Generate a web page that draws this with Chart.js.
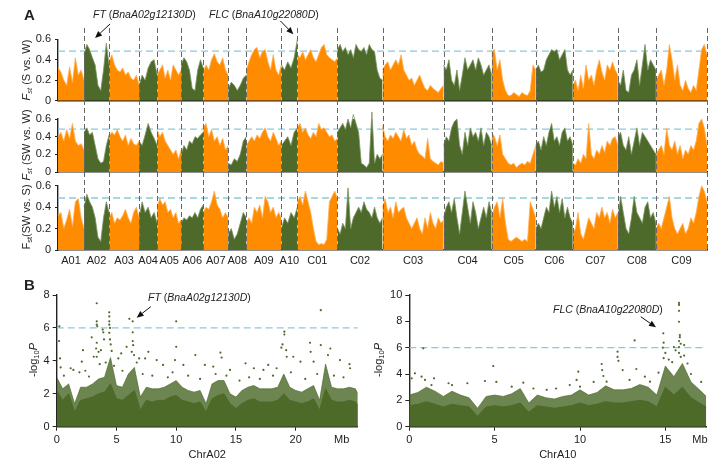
<!DOCTYPE html>
<html>
<head>
<meta charset="utf-8">
<script src="https://cdn.jsdelivr.net/npm/chart.js@4.4.1/dist/chart.umd.min.js"></script>
<style>
html, body { margin: 0; padding: 0; background: #fff; }
#wrap { position: relative; width: 723px; height: 470px; overflow: hidden; font-family: "Liberation Sans", Arial, sans-serif; color: #222; }
#wrap canvas { position: absolute; left: 0; top: 0; }
.lbl { position: absolute; white-space: nowrap; font-size: 10.5px; line-height: 13px; }
.panel { position: absolute; font-weight: bold; font-size: 15px; line-height: 17px; }
.ytitle { position: absolute; white-space: nowrap; font-size: 11px; line-height: 13px; transform: translate(-50%, -50%) rotate(-90deg); }
.ytitle sub { font-size: 7.5px; vertical-align: -2px; }
</style>
</head>
<body>
<div id="wrap">
  <canvas id="rowA1" width="723" height="470"></canvas>
  <canvas id="rowA2" width="723" height="470"></canvas>
  <canvas id="rowA3" width="723" height="470"></canvas>
  <canvas id="gwasA02" width="723" height="470"></canvas>
  <canvas id="gwasA10" width="723" height="470"></canvas>

  <div class="panel" style="left:24px;top:6px;">A</div>
  <div class="panel" style="left:24px;top:276px;">B</div>

  <div class="lbl" style="left:93px;top:8px;"><i>FT</i> (<i>BnaA02g12130D</i>)</div>
  <div class="lbl" style="left:209px;top:8px;"><i>FLC</i> (<i>BnaA10g22080D</i>)</div>
  <div class="lbl" style="left:148px;top:291px;"><i>FT</i> (<i>BnaA02g12130D</i>)</div>
  <div class="lbl" style="left:553px;top:303px;"><i>FLC</i> (<i>BnaA10g22080D</i>)</div>

  <div class="ytitle" style="left:28px;top:70px;"><i>F</i><sub><i>st</i></sub> (S vs. W)</div>
  <div class="ytitle" style="left:28px;top:145px;"><i>F</i><sub><i>st</i></sub> (SW vs. W)</div>
  <div class="ytitle" style="left:28px;top:217px;">F<sub>st</sub>(SW vs. S)</div>
  <div class="ytitle" style="left:35px;top:360px;">-log<sub>10</sub><i>P</i></div>
  <div class="ytitle" style="left:380px;top:360px;">-log<sub>10</sub><i>P</i></div>
</div>

<script>
// ---- panel A data: Fst windows per chromosome ----
const chromNames = ['A01', 'A02', 'A03', 'A04', 'A05', 'A06', 'A07', 'A08', 'A09', 'A10',
  'C01', 'C02', 'C03', 'C04', 'C05', 'C06', 'C07', 'C08', 'C09'];
const chromLengths = [26, 25, 30, 18, 24, 22, 25, 18, 35, 16, 40, 45, 61, 48, 44, 37, 45, 38, 51];
const fstTicks = [0, 0.2, 0.4, 0.6];
const fstThreshold = 0.485;

const fstSvsW = [
  [0.32, 0.28, 0.2, 0.15, 0.33, 0.18, 0.42, 0.25, 0.3, 0.2],
  [0.45, 0.55, 0.5, 0.42, 0.35, 0.15, 0.1, 0.3, 0.56, 0.35],
  [0.38, 0.45, 0.35, 0.3, 0.28, 0.32, 0.25, 0.28, 0.22, 0.2, 0.25, 0.15],
  [0.15, 0.25, 0.2, 0.32, 0.38, 0.4, 0.25],
  [0.25, 0.3, 0.35, 0.22, 0.3, 0.2, 0.35, 0.3, 0.25, 0.3],
  [0.35, 0.42, 0.38, 0.3, 0.12, 0.1, 0.3, 0.4, 0.32],
  [0.28, 0.35, 0.3, 0.4, 0.46, 0.38, 0.35, 0.42, 0.3, 0.25],
  [0.12, 0.18, 0.15, 0.1, 0.15, 0.22, 0.25],
  [0.3, 0.38, 0.45, 0.5, 0.52, 0.42, 0.48, 0.5, 0.38, 0.3, 0.45, 0.3, 0.25, 0.35],
  [0.35, 0.3, 0.38, 0.32, 0.42, 0.6],
  [0.45, 0.42, 0.48, 0.4, 0.45, 0.5, 0.42, 0.38, 0.45, 0.52, 0.55, 0.45, 0.42, 0.4, 0.38, 0.42],
  [0.5, 0.55, 0.48, 0.52, 0.45, 0.5, 0.42, 0.55, 0.5, 0.48, 0.52, 0.45, 0.55, 0.5, 0.48, 0.3, 0.22, 0.2],
  [0.3, 0.35, 0.38, 0.3, 0.35, 0.4, 0.35, 0.45, 0.3, 0.25, 0.2, 0.22, 0.15, 0.2, 0.25, 0.18, 0.12, 0.1, 0.15, 0.12, 0.1, 0.08, 0.12, 0.15],
  [0.35, 0.3, 0.4, 0.2, 0.15, 0.3, 0.1, 0.25, 0.42, 0.3, 0.35, 0.4, 0.3, 0.42, 0.35, 0.25, 0.3, 0.35, 0.25],
  [0.48, 0.5, 0.3, 0.4, 0.2, 0.1, 0.05, 0.05, 0.08, 0.06, 0.04, 0.08, 0.06, 0.05, 0.1, 0.35, 0.3],
  [0.3, 0.35, 0.28, 0.3, 0.4, 0.45, 0.5, 0.48, 0.5, 0.4, 0.45, 0.5, 0.3, 0.25, 0.3],
  [0.15, 0.2, 0.1, 0.25, 0.12, 0.35, 0.2, 0.25, 0.15, 0.3, 0.4, 0.28, 0.2, 0.35, 0.3, 0.38, 0.3, 0.25],
  [0.2, 0.15, 0.3, 0.1, 0.08, 0.25, 0.3, 0.4, 0.15, 0.35, 0.55, 0.3, 0.4, 0.35, 0.3],
  [0.2, 0.25, 0.3, 0.15, 0.3, 0.55, 0.4, 0.2, 0.35, 0.15, 0.1, 0.2, 0.12, 0.08, 0.15, 0.1, 0.3, 0.5, 0.55, 0.45]
];

const fstSWvsW = [
  [0.4, 0.45, 0.35, 0.48, 0.38, 0.55, 0.35, 0.3, 0.32, 0.25],
  [0.45, 0.5, 0.42, 0.45, 0.3, 0.15, 0.1, 0.12, 0.3, 0.42],
  [0.4, 0.45, 0.42, 0.48, 0.4, 0.35, 0.42, 0.3, 0.38, 0.32, 0.3, 0.35],
  [0.35, 0.3, 0.42, 0.55, 0.45, 0.38, 0.3],
  [0.48, 0.4, 0.45, 0.35, 0.3, 0.25, 0.2, 0.25, 0.15, 0.25],
  [0.2, 0.3, 0.25, 0.35, 0.32, 0.4, 0.38, 0.42, 0.45],
  [0.5, 0.55, 0.4, 0.48, 0.35, 0.4, 0.3, 0.38, 0.25, 0.3],
  [0.1, 0.08, 0.15, 0.12, 0.2, 0.35, 0.4],
  [0.3, 0.35, 0.4, 0.35, 0.42, 0.38, 0.45, 0.5, 0.4, 0.35, 0.45, 0.38, 0.3, 0.35],
  [0.3, 0.35, 0.4, 0.3, 0.45, 0.5],
  [0.5, 0.55, 0.45, 0.5, 0.42, 0.38, 0.45, 0.4, 0.55, 0.48, 0.5, 0.45, 0.4, 0.42, 0.35, 0.38],
  [0.45, 0.5, 0.55, 0.48, 0.6, 0.5, 0.65, 0.55, 0.45, 0.1, 0.08, 0.05, 0.1, 0.68, 0.1, 0.2, 0.15, 0.2],
  [0.53, 0.4, 0.35, 0.42, 0.38, 0.45, 0.4, 0.35, 0.48, 0.38, 0.42, 0.3, 0.35, 0.25, 0.2, 0.18, 0.15, 0.38, 0.15, 0.12, 0.1, 0.08, 0.12, 0.1],
  [0.3, 0.4, 0.35, 0.5, 0.57, 0.6, 0.3, 0.2, 0.45, 0.3, 0.5, 0.4, 0.45, 0.35, 0.5, 0.3, 0.45, 0.4, 0.3],
  [0.45, 0.4, 0.3, 0.42, 0.2, 0.15, 0.1, 0.08, 0.1, 0.05, 0.08, 0.1, 0.08, 0.12, 0.1, 0.2, 0.3],
  [0.3, 0.35, 0.25, 0.4, 0.3, 0.45, 0.55, 0.35, 0.4, 0.3, 0.45, 0.5, 0.35, 0.4, 0.3],
  [0.1, 0.08, 0.15, 0.1, 0.2, 0.15, 0.55, 0.2, 0.15, 0.25, 0.2, 0.3, 0.22, 0.35, 0.3, 0.38, 0.4, 0.3],
  [0.4, 0.45, 0.3, 0.25, 0.4, 0.2, 0.35, 0.5, 0.3, 0.45, 0.4, 0.35, 0.3, 0.25, 0.2],
  [0.2, 0.25, 0.3, 0.2, 0.5, 0.3, 0.25, 0.35, 0.2, 0.3, 0.15, 0.25, 0.2, 0.3, 0.25, 0.35, 0.55, 0.6, 0.5, 0.3]
];

const fstSWvsS = [
  [0.32, 0.35, 0.2, 0.28, 0.38, 0.22, 0.45, 0.48, 0.3, 0.2],
  [0.4, 0.52, 0.45, 0.4, 0.3, 0.12, 0.08, 0.3, 0.45, 0.35],
  [0.3, 0.35, 0.25, 0.3, 0.28, 0.32, 0.38, 0.3, 0.25, 0.35, 0.4, 0.3],
  [0.3, 0.45, 0.35, 0.4, 0.3, 0.35, 0.25],
  [0.4, 0.48, 0.42, 0.45, 0.35, 0.38, 0.3, 0.35, 0.25, 0.28],
  [0.25, 0.3, 0.28, 0.32, 0.3, 0.35, 0.3, 0.38, 0.42],
  [0.35, 0.4, 0.38, 0.45, 0.55, 0.42, 0.38, 0.3, 0.35, 0.3],
  [0.15, 0.2, 0.1, 0.15, 0.25, 0.35, 0.3],
  [0.25, 0.3, 0.25, 0.4, 0.35, 0.42, 0.3, 0.5, 0.45, 0.35, 0.4, 0.3, 0.35, 0.3],
  [0.2, 0.3, 0.25, 0.35, 0.3, 0.4],
  [0.45, 0.5, 0.42, 0.55, 0.45, 0.35, 0.2, 0.08, 0.05, 0.06, 0.05, 0.1, 0.45, 0.5, 0.55, 0.48],
  [0.2, 0.15, 0.25, 0.2, 0.58, 0.2, 0.3, 0.35, 0.4, 0.35, 0.45, 0.38, 0.35, 0.3, 0.4, 0.3, 0.25, 0.3],
  [0.4, 0.48, 0.35, 0.4, 0.3, 0.45, 0.35, 0.38, 0.4, 0.3, 0.25, 0.2, 0.25, 0.3, 0.2, 0.15, 0.3, 0.2, 0.35, 0.25, 0.2, 0.3, 0.25, 0.28],
  [0.3, 0.4, 0.45, 0.35, 0.48, 0.3, 0.15, 0.35, 0.55, 0.4, 0.25, 0.45, 0.35, 0.2, 0.3, 0.4, 0.3, 0.45, 0.35],
  [0.3, 0.4, 0.45, 0.3, 0.48, 0.25, 0.1, 0.08, 0.1, 0.12, 0.1, 0.08, 0.1, 0.08, 0.45, 0.38, 0.3],
  [0.2, 0.25, 0.2, 0.3, 0.4, 0.35, 0.55, 0.4, 0.5, 0.35, 0.48, 0.3, 0.4, 0.3, 0.25],
  [0.15, 0.2, 0.35, 0.15, 0.1, 0.2, 0.3, 0.25, 0.2, 0.35, 0.3, 0.4, 0.3, 0.35, 0.25, 0.38, 0.3, 0.35],
  [0.3, 0.5, 0.35, 0.2, 0.15, 0.3, 0.5, 0.35, 0.3, 0.25, 0.4, 0.45, 0.3, 0.35, 0.25],
  [0.2, 0.25, 0.2, 0.3, 0.4, 0.5, 0.3, 0.2, 0.15, 0.2, 0.25, 0.15, 0.2, 0.3, 0.25, 0.35, 0.5, 0.6, 0.55, 0.45]
];

// ---- panel B data: association scans ----
const gwasThreshold = 6;
const envelopeStep = 0.5; // Mb between envelope values of the dense point cloud
const a02Length = 25.2;
const a02Ticks = [0, 5, 10, 15, 20];
// top of the solid core and of the speckled cloud of SNPs
const a02Solid = [2.2, 1.6, 2.0, 0.9, 1.6, 1.7, 1.8, 2.0, 2.1, 2.6, 1.7, 1.6, 1.9, 2.2, 1.0, 1.6, 1.5,
  1.6, 1.6, 1.8, 1.9, 1.6, 1.5, 1.4, 1.5, 0.9, 1.7, 1.9, 2.0, 1.4, 1.1, 1.4, 1.6, 1.7, 1.5, 1.5, 1.5,
  1.6, 2.0, 1.6, 1.5, 1.4, 1.5, 1.7, 1.0, 2.3, 1.6, 1.5, 1.5, 1.6, 1.5, 1.3];
const a02Cloud = [3.0, 2.3, 2.6, 1.4, 2.4, 2.4, 2.6, 2.9, 3.0, 4.2, 2.5, 2.4, 3.2, 3.6, 1.8, 2.4, 2.3,
  2.3, 2.4, 2.6, 2.8, 2.4, 2.2, 2.1, 2.2, 1.4, 2.6, 2.8, 2.8, 2.0, 1.8, 2.2, 2.4, 2.5, 2.3, 2.3, 2.3,
  2.4, 3.2, 2.4, 2.2, 2.1, 2.3, 2.5, 1.6, 3.8, 2.4, 2.3, 2.3, 2.4, 2.3, 2.0];
const a02Peaks = [
  [0.22, 6.1], [0.2, 5.2], [0.28, 4.15], [0.33, 3.6], [1.17, 3.55], [1.4, 3.45], [2.1, 3.95], [2.2, 4.65],
  [2.7, 3.05], [2.93, 5.43], [3.1, 4.25], [3.35, 7.5], [3.35, 6.4], [3.35, 6.2], [3.4, 6.1], [3.35, 5.1],
  [3.3, 4.75], [3.5, 4.55], [3.35, 4.25], [3.85, 5.9], [3.9, 5.73], [3.96, 5.3], [3.7, 4.65], [4.4, 6.95],
  [4.4, 6.7], [4.4, 6.4], [4.4, 6.2], [4.46, 6.0], [4.4, 5.7], [4.46, 5.3], [4.52, 5.0], [4.6, 4.6],
  [5.16, 4.15], [5.4, 4.45], [5.85, 4.85], [6.08, 6.55], [6.36, 6.4], [6.36, 5.73], [6.36, 5.2], [6.4, 4.95],
  [6.28, 4.55], [6.47, 4.35], [6.9, 4.15], [7.4, 4.15], [7.67, 4.55], [8.37, 4.05], [8.9, 3.75], [10.0, 6.4],
  [10.0, 4.85], [9.9, 4.05], [10.6, 3.75], [11.6, 4.35], [12.4, 3.75], [13.1, 3.65], [13.7, 4.5], [13.8, 4.2],
  [14.5, 3.45], [15.8, 3.85], [16.5, 3.55], [17.3, 3.45], [17.7, 3.75], [18.4, 3.55], [18.9, 5.0], [19.05, 5.77],
  [19.05, 5.6], [18.8, 4.8], [19.2, 4.65], [19.25, 4.25], [19.8, 4.25], [20.4, 3.95], [21.2, 5.1], [21.25, 4.55],
  [21.5, 3.95], [22.1, 7.08], [22.1, 4.96], [22.9, 4.75], [22.7, 4.35], [23.7, 4.05], [24.5, 3.8], [24.55, 3.55],
  [0.6, 3.1], [1.9, 3.3], [2.4, 3.4], [3.6, 3.8], [4.1, 3.9], [4.8, 3.7], [5.5, 3.4], [6.7, 3.9], [7.2, 3.2],
  [8.0, 3.1], [9.3, 3.0], [9.7, 3.3], [11.0, 3.1], [12.0, 2.9], [13.3, 3.2], [14.2, 3.1], [15.3, 2.8],
  [16.1, 3.0], [17.0, 2.9], [18.1, 3.1], [19.6, 3.3], [20.8, 2.9], [21.8, 3.2], [23.2, 3.1], [24.0, 3.0]
];

const a10Length = 17.4;
const a10Ticks = [0, 5, 10, 15];
const a10Solid = [1.6, 1.7, 1.9, 1.7, 1.5, 1.7, 1.6, 1.5, 0.8, 1.5, 1.6, 1.5, 1.6, 1.8, 1.1, 1.6, 1.5,
  1.4, 1.5, 1.6, 1.8, 1.6, 1.7, 1.9, 1.8, 1.8, 1.9, 2.0, 1.9, 1.5, 3.0, 2.4, 3.0, 2.2, 1.8, 1.5];
const a10Cloud = [2.4, 2.6, 3.0, 2.7, 2.3, 2.7, 2.4, 2.2, 1.4, 2.3, 2.4, 2.3, 2.5, 2.9, 1.8, 2.4, 2.2,
  2.1, 2.3, 2.4, 2.8, 2.4, 2.6, 3.1, 2.8, 2.8, 2.9, 3.2, 3.0, 2.4, 4.6, 3.8, 4.8, 3.4, 2.8, 2.3];
const a10Peaks = [
  [0.14, 3.67], [0.33, 4.05], [0.82, 5.95], [0.72, 3.8], [0.92, 3.55], [1.45, 3.67], [1.3, 3.16], [2.3, 3.3],
  [2.5, 3.16], [3.4, 3.3], [4.43, 3.47], [4.92, 4.6], [5.1, 3.4], [6.0, 3.04], [6.68, 3.34], [7.27, 2.9],
  [8.05, 2.8], [8.6, 2.9], [9.4, 3.16], [9.9, 4.18], [9.8, 3.55], [10.0, 3.04], [10.8, 3.4], [11.27, 4.76],
  [11.3, 4.3], [11.37, 3.85], [11.56, 3.42], [12.2, 5.7], [12.2, 5.3], [12.25, 5.0], [12.5, 4.3], [12.9, 3.55],
  [13.2, 6.55], [13.3, 4.38], [13.8, 3.8], [14.1, 3.42], [14.88, 7.09], [14.9, 6.38], [14.85, 6.0], [15.0, 5.6],
  [14.9, 5.2], [15.5, 6.05], [15.6, 5.8], [15.8, 9.4], [15.8, 9.25], [15.8, 8.8], [15.8, 7.97], [15.85, 6.96],
  [15.85, 6.8], [15.8, 6.5], [15.9, 6.3], [15.8, 6.05], [15.8, 5.6], [15.9, 5.3], [16.1, 6.2], [16.1, 5.4],
  [15.2, 5.1], [16.3, 4.8], [16.5, 4.0], [17.1, 3.4], [15.4, 4.9], [14.6, 4.1]
];

// ---- styling ----
const ORANGE = '#FF8C00';
const ORANGE_TOP = '#FFAE55';
const GREEN = '#4D6A2A';
const GREEN_TOP = '#7D9461';
const GREEN_CLOUD = 'rgba(77,106,42,0.82)';
const CYAN = '#86CCDB';
const AXIS = '#222';
const FONT = '"Liberation Sans", Arial, sans-serif';

Chart.defaults.font.family = FONT;
Chart.defaults.color = AXIS;

// arrows pointing at a gene, given in data coordinates
const arrowPlugin = {
  id: 'arrows',
  afterDraw(chart, args, opts) {
    const list = opts.list || [];
    const ctx = chart.ctx, xs = chart.scales.x, ys = chart.scales.y;
    list.forEach(a => {
      const x1 = xs.getPixelForValue(a.from[0]), y1 = ys.getPixelForValue(a.from[1]);
      const x2 = xs.getPixelForValue(a.to[0]), y2 = ys.getPixelForValue(a.to[1]);
      const ang = Math.atan2(y2 - y1, x2 - x1);
      const hl = 7, hw = 3;
      const bx = x2 - hl * Math.cos(ang), by = y2 - hl * Math.sin(ang);
      ctx.save();
      ctx.strokeStyle = '#111';
      ctx.fillStyle = '#111';
      ctx.lineWidth = 1;
      ctx.beginPath();
      ctx.moveTo(x1, y1);
      ctx.lineTo(bx, by);
      ctx.stroke();
      ctx.beginPath();
      ctx.moveTo(x2, y2);
      ctx.lineTo(bx + hw * Math.sin(ang), by - hw * Math.cos(ang));
      ctx.lineTo(bx - hw * Math.sin(ang), by + hw * Math.cos(ang));
      ctx.closePath();
      ctx.fill();
      ctx.restore();
    });
  }
};

// dashed chromosome borders running through all three Fst rows
const dividerPlugin = {
  id: 'chromDividers',
  afterDatasetsDraw(chart, args, opts) {
    if (!opts.top) return;
    const ctx = chart.ctx, xs = chart.scales.x;
    ctx.save();
    ctx.setLineDash([5, 3]);
    ctx.strokeStyle = '#666';
    ctx.lineWidth = 1;
    let pos = 0;
    chromLengths.forEach(len => {
      pos += len;
      const px = Math.round(xs.getPixelForValue(pos)) + 0.5;
      ctx.beginPath();
      ctx.moveTo(px, opts.top);
      ctx.lineTo(px, chart.chartArea.bottom);
      ctx.stroke();
    });
    ctx.restore();
  }
};

Chart.register(arrowPlugin, dividerPlugin);

function padFor(area, yw, xh) {
  return { left: area.left - yw, top: area.top, right: 723 - area.right, bottom: 470 - area.bottom - xh };
}

const totalLength = chromLengths.reduce((a, b) => a + b, 0);
const chromCenters = [];
(function () {
  let s = 0;
  chromLengths.forEach(len => { chromCenters.push(s + len / 2); s += len; });
})();

function fstDatasets(rowValues) {
  const sets = [];
  let start = 0;
  rowValues.forEach((vals, c) => {
    const len = chromLengths[c];
    const step = len / (vals.length - 1);
    sets.push({
      data: vals.map((v, i) => ({ x: start + i * step, y: v })),
      fill: 'origin',
      backgroundColor: c % 2 ? GREEN : ORANGE,
      borderColor: c % 2 ? GREEN_TOP : ORANGE_TOP,
      borderWidth: 0.8,
      pointRadius: 0,
      tension: 0,
      clip: false
    });
    start += len;
  });
  sets.push({
    data: [{ x: 0, y: fstThreshold }, { x: totalLength, y: fstThreshold }],
    borderColor: CYAN,
    borderDash: [7, 4],
    borderWidth: 1.3,
    pointRadius: 0,
    fill: false
  });
  return sets;
}

function fstRow(id, values, area, opts) {
  const xh = opts.labels ? 20 : 2;
  return new Chart(document.getElementById(id), {
    type: 'line',
    data: { datasets: fstDatasets(values) },
    options: {
      responsive: false,
      animation: false,
      events: [],
      layout: { padding: padFor(area, 40, xh) },
      plugins: {
        legend: { display: false },
        tooltip: { enabled: false },
        arrows: { list: opts.arrows || [] },
        chromDividers: { top: opts.dividerTop || 0 }
      },
      scales: {
        x: {
          type: 'linear',
          min: 0,
          max: totalLength,
          grid: { display: false, drawTicks: false },
          border: { display: true, color: AXIS, width: 1.4 },
          afterBuildTicks: s => { s.ticks = chromCenters.map(v => ({ value: v })); },
          afterFit: s => { s.height = xh; },
          ticks: {
            display: !!opts.labels,
            autoSkip: false,
            maxRotation: 0,
            minRotation: 0,
            padding: 4,
            font: { size: 11 },
            callback: (v, i) => chromNames[i]
          }
        },
        y: {
          min: 0,
          max: 0.6,
          afterBuildTicks: s => { s.ticks = fstTicks.map(v => ({ value: v })); },
          afterFit: s => { s.width = 40; },
          grid: { drawOnChartArea: false, tickLength: 3, color: AXIS },
          border: { color: AXIS, width: 1.4 },
          ticks: { padding: 4, font: { size: 11 }, callback: v => String(+v.toFixed(1)) }
        }
      }
    }
  });
}

fstRow('rowA1', fstSvsW, { left: 58, top: 39.3, right: 707, bottom: 100.7 }, {
  arrows: [{ from: [52, 0.75], to: [37, 0.613] }, { from: [222, 0.78], to: [235, 0.65] }]
});
fstRow('rowA2', fstSWvsW, { left: 58, top: 119, right: 707, bottom: 172 }, {});
fstRow('rowA3', fstSWvsS, { left: 58, top: 185.7, right: 707, bottom: 250 }, { labels: true, dividerTop: 28 });

function envelopeData(values, length) {
  return values.map((v, i) => ({ x: Math.min(i * envelopeStep, length), y: v }));
}

function gwasChart(id, cfg) {
  const mbPos = cfg.mbPos;
  const xh = 37;
  return new Chart(document.getElementById(id), {
    type: 'line',
    data: {
      datasets: [
        {
          data: envelopeData(cfg.cloud, cfg.length),
          fill: 'origin',
          backgroundColor: GREEN_CLOUD,
          borderColor: GREEN_CLOUD,
          borderWidth: 0.8,
          pointRadius: 0,
          tension: 0
        },
        {
          data: envelopeData(cfg.solid, cfg.length),
          fill: 'origin',
          backgroundColor: GREEN,
          borderColor: GREEN,
          borderWidth: 1,
          pointRadius: 0,
          tension: 0
        },
        {
          type: 'scatter',
          data: cfg.peaks.map(p => ({ x: p[0], y: p[1] })),
          pointRadius: 1.1,
          pointBackgroundColor: GREEN,
          pointBorderWidth: 0,
          showLine: false
        },
        {
          data: [{ x: 0, y: gwasThreshold }, { x: cfg.length, y: gwasThreshold }],
          borderColor: CYAN,
          borderDash: [7, 4],
          borderWidth: 1.3,
          pointRadius: 0,
          fill: false
        }
      ]
    },
    options: {
      responsive: false,
      animation: false,
      events: [],
      layout: { padding: padFor(cfg.area, 40, xh) },
      plugins: {
        legend: { display: false },
        tooltip: { enabled: false },
        arrows: { list: cfg.arrows }
      },
      scales: {
        x: {
          type: 'linear',
          min: 0,
          max: cfg.length,
          afterBuildTicks: s => { s.ticks = cfg.ticks.concat([mbPos]).map(v => ({ value: v })); },
          afterFit: s => { s.height = xh; },
          grid: {
            drawOnChartArea: false,
            tickLength: 4,
            tickColor: c => (c.tick && c.tick.value === mbPos ? 'rgba(0,0,0,0)' : AXIS)
          },
          border: { color: AXIS, width: 1.4 },
          ticks: {
            autoSkip: false,
            maxRotation: 0,
            padding: 3,
            font: { size: 11 },
            callback: v => (v === mbPos ? 'Mb' : String(v))
          },
          title: { display: true, text: cfg.title, font: { size: 11 }, padding: { top: 2, bottom: 2 } }
        },
        y: {
          min: 0,
          max: cfg.yMax,
          afterBuildTicks: s => { s.ticks = cfg.yTicks.map(v => ({ value: v })); },
          afterFit: s => { s.width = 40; },
          grid: { drawOnChartArea: false, tickLength: 4, color: AXIS },
          border: { color: AXIS, width: 1.4 },
          ticks: { padding: 3, font: { size: 11 } }
        }
      }
    }
  });
}

gwasChart('gwasA02', {
  area: { left: 56.7, top: 295, right: 56.7 + a02Length * 11.95, bottom: 426.7 },
  length: a02Length, ticks: a02Ticks, mbPos: 23.85, title: 'ChrA02',
  solid: a02Solid, cloud: a02Cloud, peaks: a02Peaks,
  yMax: 8, yTicks: [0, 2, 4, 6, 8],
  arrows: [{ from: [7.87, 7.29], to: [6.69, 6.62] }]
});

gwasChart('gwasA10', {
  area: { left: 409.3, top: 295, right: 409.3 + a10Length * 17.07, bottom: 426.7 },
  length: a10Length, ticks: a10Ticks, mbPos: 17.03, title: 'ChrA10',
  solid: a10Solid, cloud: a10Cloud, peaks: a10Peaks,
  yMax: 10, yTicks: [0, 2, 4, 6, 8, 10],
  arrows: [{ from: [13.56, 8.35], to: [14.45, 7.55] }]
});
</script>
</body>
</html>
